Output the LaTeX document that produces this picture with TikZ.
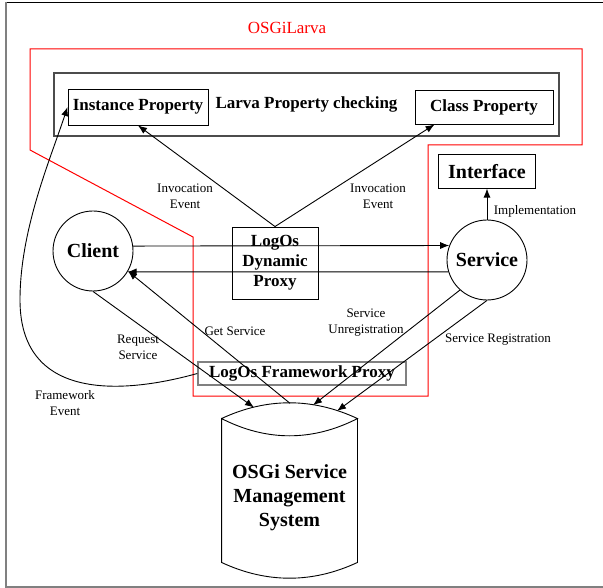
\documentclass[tikz,border=0pt]{standalone}
\usepackage{fontspec}
\setmainfont{Liberation Serif}
\usepackage{tikz}
\usetikzlibrary{positioning,arrows.meta}
\tikzset{prop/.style={rectangle,draw,inner sep=0pt,font=\fontsize{17}{20}\selectfont\bfseries},
	 actor/.style={circle,draw,inner sep=0pt,minimum size=80pt,font=\fontsize{20}{24}\selectfont\bfseries},
	 evlabel/.style={align=center,inner sep=0pt,font=\fontsize{13}{16}\selectfont},
	 flow/.style={-{Latex[length=9pt,width=7pt]}},
	 node distance = 1
	 }

\begin{document}
\begin{tikzpicture}[x=1pt,y=-1pt,line width=0.9pt] % OSGi / Larva runtime monitoring
	\useasboundingbox (0,0) rectangle (603,588);
	\draw (6,2) -- (603,2);
	\draw[gray,line width=2pt] (6,2) -- (6,587) -- (603,587);
	% Larva region
	\draw[red,line width=1pt] (30,49) -- (582,49) -- (582,145) -- (428,145) -- (428,396) -- (193,396) -- (193,237) -- (30,150) -- cycle;
	\node[text=red,font=\fontsize{17}{20}\selectfont] (osgilarva) at (287,28) {OSGiLarva};
	\node[prop,draw=black!70,line width=1.2pt,minimum width=505pt,minimum height=63pt] (larva) at (306.5,104.5) {Larva Property checking};
	\node[prop,minimum width=140pt,minimum height=36pt] (inst) at (138,107) {Instance Property};
	\node[prop,minimum width=138pt,minimum height=34pt] (cls) at (484,107) {Class Property};
	\node[actor] (client) at (93,251) {Client};
	\node[actor] (service) at (487,260) {Service};
	\node[prop,font=\fontsize{20}{24}\selectfont\bfseries,minimum width=97pt,minimum height=34pt] (iface) [above=31pt of service] {Interface};
	\node[prop,align=center,minimum width=86pt,minimum height=72pt] (dproxy) at (275,263) {LogOs\\Dynamic\\Proxy};
	\node[prop,draw=gray,line width=1.4pt,minimum width=208pt,minimum height=23pt] (fproxy) at (302,373.5) {LogOs Framework Proxy};
	% OSGi registry as a drum
	\node[align=center,inner sep=0pt,minimum width=135pt,minimum height=158pt,font=\fontsize{20}{24}\selectfont\bfseries] (osgi) at (289.5,498) {OSGi Service\\Management\\System};
	\draw (osgi.north west) .. controls +(45,-21) and +(-45,-21) .. (osgi.north east)
	      .. controls +(-45,23) and +(45,23) .. (osgi.north west)
	      -- ([yshift=15pt]osgi.south west) .. controls +(45,21) and +(-45,21) .. ([yshift=15pt]osgi.south east)
	      -- (osgi.north east);
	\coordinate (dbreq) at (254,407.5);
	\coordinate (dbget) at (290,403.3);
	\coordinate (dbunreg) at (313,405.2);
	\coordinate (dbreg) at (337,411);
	% connectors
	\draw[flow] (dproxy.north) to (inst.south);
	\draw[flow] (dproxy.north) to ([xshift=20pt]cls.south west);
	\draw[flow] (service.north) to (iface.south);
	\draw[flow] (client.7.2) to (service.159.5);
	\draw[flow] (service.197.5) to (client.-31.7);
	\draw[flow] (client.south) to (dbreq);
	\draw[flow] (dbget) to (client.-30);
	\draw[flow] (service.228) to (dbunreg);
	\draw[flow] (service.south) to (dbreg);
	\draw[flow] (fproxy.west) .. controls (120,395) and (20,400) .. (20,300)
	      .. controls (20,230) and (50,160) .. (inst.west);
	% labels
	\node[evlabel] (inv1) at (185,196) {Invocation\\Event};
	\node[evlabel] (inv2) at (378,196) {Invocation\\Event};
	\node[evlabel] (impl) at (535,211) {Implementation};
	\node[evlabel] (req) at (138,347) {Request\\Service};
	\node[evlabel] (get) at (235,331) {Get Service};
	\node[evlabel] (unreg) at (366,323) {Service\\Unregistration};
	\node[evlabel] (reg) at (498,340) {Service Registration};
	\node[evlabel] (fwev) at (65,403) {Framework\\Event};
\end{tikzpicture}
\end{document}
